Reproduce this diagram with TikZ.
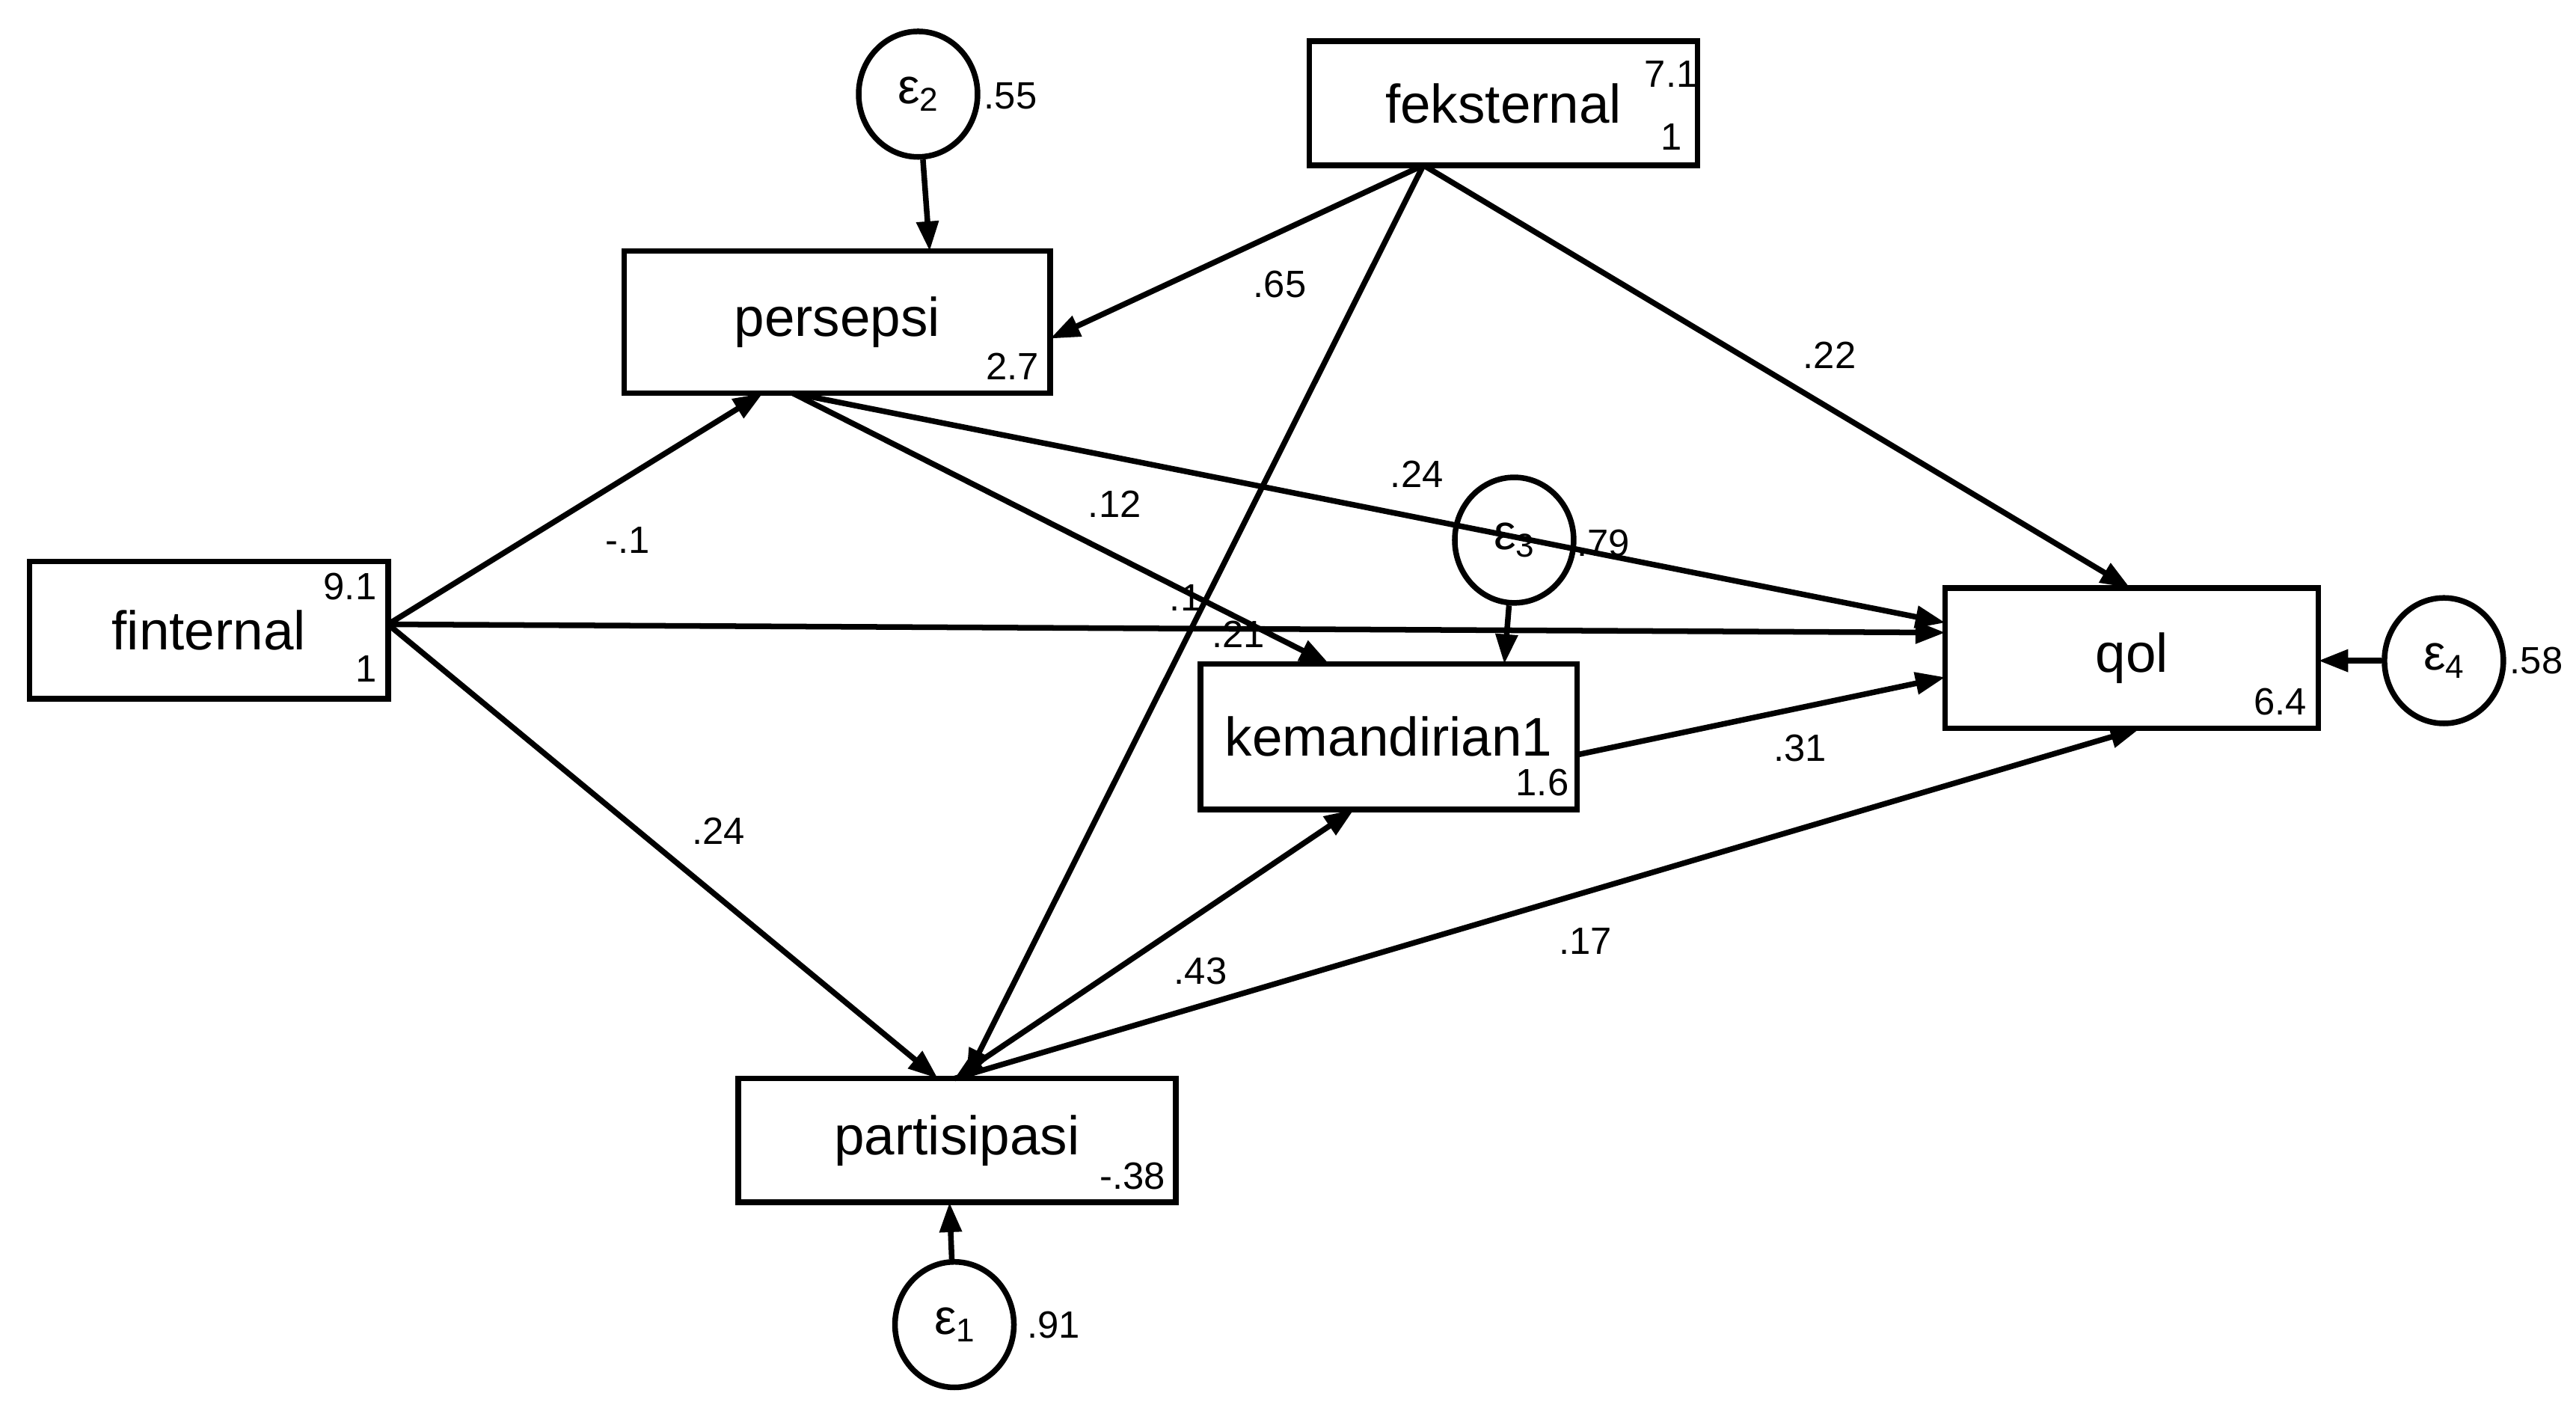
\documentclass[tikz,border=0pt]{standalone}
\usepackage{fontspec}
\setmainfont{Liberation Sans}
\usetikzlibrary{arrows.meta,shapes.geometric}
\begin{document}
\begin{tikzpicture}[x=0.5pt,y=-0.5pt,
  box/.style={draw,line width=1.7pt,rectangle,inner sep=0pt},
  err/.style={draw,line width=1.7pt,ellipse,minimum width=36pt,minimum height=38pt,inner sep=0pt,font=\fontsize{15}{15}\selectfont},
  lab/.style={font=\fontsize{16.5}{18}\selectfont},
  num/.style={font=\fontsize{11.5}{13}\selectfont,inner sep=0pt},
  ar/.style={line width=1.7pt,-{Triangle[length=9pt,width=6.5pt]}}]
\useasboundingbox (0,0) rectangle (1560,848.4);
\newcommand{\bx}[6]{\node[box,minimum width=#4*0.5pt-#2*0.5pt,minimum height=#5*0.5pt-#3*0.5pt] (#1) at ({(#2+#4)/2},{(#3+#5)/2}) {}; \node[lab] (#1t) at (#1) {#6};}
\bx{fi}{18}{340}{235}{423}{finternal}
\bx{pe}{378}{152}{636}{238}{persepsi}
\bx{fe}{793}{25}{1028}{100}{feksternal}
\bx{ke}{727}{402}{955}{490}{kemandirian1}
\bx{qo}{1178}{356}{1404}{441}{qol}
\bx{pa}{447}{653}{712}{728}{partisipasi}
\node[num] (n1) at (212,355) {9.1};
\node[num] (n2) at (222,405) {1};
\node[num] (n3) at (1012,45) {7.1};
\node[num] (n4) at (1012,83) {1};
\node[num] (n5) at (613,222) {2.7};
\node[num] (n6) at (934,474) {1.6};
\node[num] (n7) at (1381,425) {6.4};
\node[num] (n8) at (686,712) {-.38};
\node[err] (e2) at (556,57) {ε\raisebox{-0.3ex}{\fontsize{10}{10}\selectfont 2}};
\node[err] (e3) at (917,327) {ε\raisebox{-0.3ex}{\fontsize{10}{10}\selectfont 3}};
\node[err] (e4) at (1480,400) {ε\raisebox{-0.3ex}{\fontsize{10}{10}\selectfont 4}};
\node[err] (e1) at (578,802) {ε\raisebox{-0.3ex}{\fontsize{10}{10}\selectfont 1}};
\node[num] (v2) at (612,58) {.55};
\node[num] (v3) at (971,329) {.79};
\node[num] (v4) at (1536,400) {.58};
\node[num] (v1) at (638,802) {.91};
\coordinate (fiR) at (235,378);
\coordinate (peB1) at (462,238);
\coordinate (peB2) at (480,238);
\coordinate (peR) at (636,205);
\coordinate (peT) at (563,152);
\coordinate (feB) at (862,100);
\coordinate (qoL1) at (1178,377);
\coordinate (qoL2) at (1178,383);
\coordinate (qoL3) at (1178,410);
\coordinate (qoT) at (1290,356);
\coordinate (qoB) at (1296,441);
\coordinate (qoR) at (1404,400);
\coordinate (keT1) at (805,402);
\coordinate (keT2) at (911,402);
\coordinate (keR) at (955,457);
\coordinate (keB) at (820,490);
\coordinate (paT1) at (568,653);
\coordinate (paT2) at (578,653);
\coordinate (paT3) at (585,653);
\coordinate (paBt) at (575,728);
\draw[ar] (e2) -- (peT);
\draw[ar] (e3) -- (keT2);
\draw[ar] (e4) -- (qoR);
\draw[ar] (e1) -- (paBt);
\draw[ar] (fiR) -- (peB1);
\draw[ar] (fiR) -- (qoL2);
\draw[ar] (fiR) -- (paT1);
\draw[ar] (peB2) -- (keT1);
\draw[ar] (peB2) -- (qoL1);
\draw[ar] (feB) -- (peR);
\draw[ar] (feB) -- (paT3);
\draw[ar] (feB) -- (qoT);
\draw[ar] (keR) -- (qoL3);
\draw[line width=1.7pt,{Triangle[length=9pt,width=6.5pt]}-{Triangle[length=9pt,width=6.5pt]}] (paT2) -- (keB);
\draw[ar] (paT2) -- (qoB);
\node[num] (l1) at (380,327) {-.1};
\node[num] (l2) at (750,384) {.21};
\node[num] (l3) at (718,362) {.1};
\node[num] (l4) at (435,503) {.24};
\node[num] (l5) at (675,305) {.12};
\node[num] (l6) at (858,287) {.24};
\node[num] (l7) at (775,172) {.65};
\node[num] (l8) at (1108,215) {.22};
\node[num] (l9) at (1090,453) {.31};
\node[num] (l10) at (727,588) {.43};
\node[num] (l11) at (960,570) {.17};
\end{tikzpicture}
\end{document}
